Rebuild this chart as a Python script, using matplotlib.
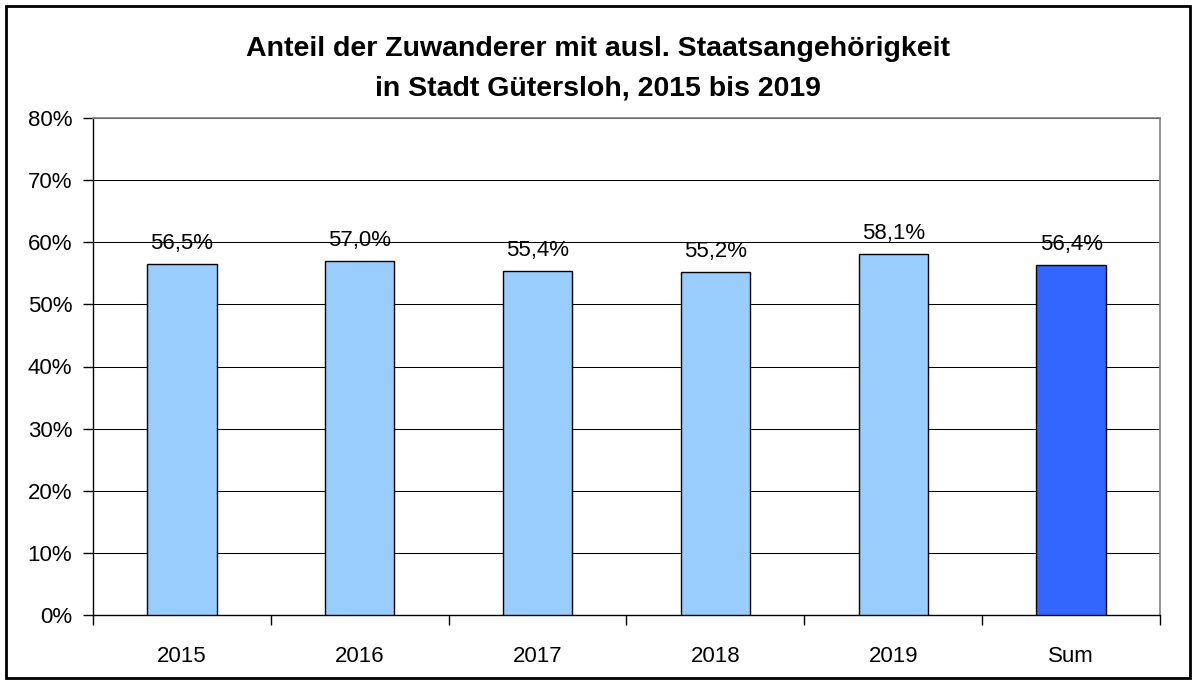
import matplotlib as mpl

mpl.use('Agg')

import matplotlib.pyplot as plt
from matplotlib.patches import Rectangle
from matplotlib.ticker import FixedLocator, FuncFormatter

plt.rcParams['font.family'] = ['Liberation Sans', 'DejaVu Sans']

categories = ['2015', '2016', '2017', '2018', '2019', 'Sum']
shares = [56.5, 57.0, 55.4, 55.2, 58.1, 56.4]
bar_colors = ['#99CCFF', '#99CCFF', '#99CCFF', '#99CCFF', '#99CCFF', '#3366FF']
title = 'Anteil der Zuwanderer mit ausl. Staatsangehörigkeit\nin Stadt Gütersloh, 2015 bis 2019'

fig = plt.figure(figsize=(11.96, 6.84), dpi=100)
ax = fig.add_axes([93 / 1196, 1 - 615 / 684, (1160 - 93) / 1196, (615 - 118) / 684])

x = list(range(len(categories)))
ax.bar(x, shares, width=0.39, color=bar_colors, edgecolor='black', linewidth=1, zorder=3)

for xi, v in zip(x, shares):
    ax.annotate(f'{v:.1f}%'.replace('.', ','), (xi, v), xytext=(0, 7), textcoords='offset points',
                ha='center', va='bottom', fontsize=16, zorder=4)

ax.set_xlim(-0.5, len(categories) - 0.5)
ax.set_ylim(0, 80)
ax.set_yticks(range(0, 81, 10))
ax.yaxis.set_major_formatter(FuncFormatter(lambda v, p: f'{v:.0f}%'))
ax.yaxis.grid(True, color='black', linewidth=0.75, zorder=0)

ax.set_xticks(x)
ax.set_xticklabels(categories)
ax.xaxis.set_minor_locator(FixedLocator([i - 0.5 for i in range(len(categories) + 1)]))
ax.tick_params(axis='x', which='major', length=0, pad=22, labelsize=16)
ax.tick_params(axis='x', which='minor', length=7, width=1, direction='out', color='black')
ax.tick_params(axis='y', length=7, width=1, pad=8, labelsize=16, color='black')

for side in ['top', 'right']:
    ax.spines[side].set_color('#808080')
    ax.spines[side].set_linewidth(1.2)
for side in ['left', 'bottom']:
    ax.spines[side].set_color('black')
    ax.spines[side].set_linewidth(1)

fig.text(0.5, 1 - 69 / 684, title, ha='center', va='center', fontsize=20.5, fontweight='bold',
         linespacing=1.65)

fig.patches.append(Rectangle((6 / 1196, 6 / 684), 1184 / 1196, 672 / 684, transform=fig.transFigure,
                             fill=False, edgecolor='black', linewidth=2))

fig.savefig('out.png', dpi=100)
